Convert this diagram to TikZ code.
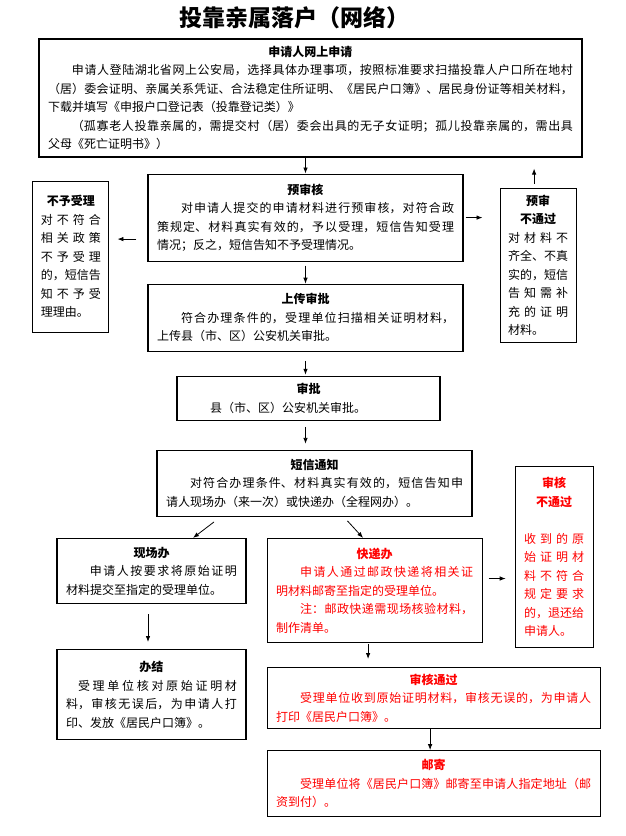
\documentclass[tikz,border=0pt]{standalone}
\usepackage{fontspec}
\setmainfont{Noto Sans CJK SC}
\usetikzlibrary{positioning,arrows.meta}
\XeTeXlinebreaklocale "zh"
\XeTeXlinebreakskip=0pt plus 1pt

\begin{document}
\begin{tikzpicture}[x=1pt, y=-1pt, ->, >={Latex[length=6pt,width=4.5pt]}, line width=0.8pt,
  box/.style={draw, line width=1.1pt, inner xsep=9pt, inner ysep=4pt, align=justify,
    font=\fontsize{12}{18.5}\selectfont},
  narrow/.style={box, text width=60pt, inner xsep=8pt,
    execute at begin node={\XeTeXlinebreakskip=0pt plus 8pt}},
  redbox/.style={box, text=red}]

  \useasboundingbox (0,0) rectangle (626,836);

  \node[font=\fontsize{23}{23}\selectfont\bfseries] (title) at (294,18) {投靠亲属落户（网络）};

  \node[box, text width=525pt, minimum height=118pt] (apply) at (310.5,98) {%
    {\centering\bfseries 申请人网上申请\par}%
    \hspace*{2em}申请人登陆湖北省网上公安局，选择具体办理事项，按照标准要求扫描投靠人户口所在地村\linebreak
    （居）委会证明、亲属关系凭证、合法稳定住所证明、《居民户口簿》、居民身份证等相关材料，\linebreak
    下载并填写《申报户口登记表（投靠登记类）》\par
    \hspace*{2em}（孤寡老人投靠亲属的，需提交村（居）委会出具的无子女证明；孤儿投靠亲属的，需出具\linebreak
    父母《死亡证明书》）};
  \node[box, text width=297pt, minimum height=87pt] (pre) [below=16pt of apply, xshift=-5pt] {%
    {\centering\bfseries 预审核\par}%
    \hspace*{2em}对申请人提交的申请材料进行预审核，对符合政\linebreak
    策规定、材料真实有效的，予以受理，短信告知受理\linebreak
    情况；反之，短信告知不予受理情况。};
  \node[narrow, minimum height=151pt] (reject) [below left=7pt and 38pt of pre.north west] {%
    {\centering\bfseries 不予受理\par}%
    对不符合\linebreak 相关政策\linebreak 不予受理\linebreak 的，短信告\linebreak 知不予受\linebreak 理理由。};
  \node[narrow, minimum height=154pt] (fail1) [below right=14pt and 36pt of pre.north east] {%
    {\centering\bfseries 预审\par 不通过\par}%
    对材料不\linebreak 齐全、不真\linebreak 实的，短信\linebreak 告知需补\linebreak 充的证明\linebreak 材料。};
  \node[box, text width=297pt, minimum height=67pt] (upload) [below=22pt of pre] {%
    {\centering\bfseries 上传审批\par}%
    \hspace*{2em}符合办理条件的，受理单位扫描相关证明材料，\linebreak
    上传县（市、区）公安机关审批。};
  \node[box, text width=245pt, minimum height=44pt] (approve) [below=24pt of upload, xshift=3pt] {%
    {\centering\bfseries 审批\par}%
    \hspace*{2em}县（市、区）公安机关审批。};
  \node[box, text width=297pt, minimum height=66pt] (notify) [below=29pt of approve, xshift=6pt] {%
    {\centering\bfseries 短信通知\par}%
    \hspace*{2em}对符合办理条件、材料真实有效的，短信告知申\linebreak
    请人现场办（来一次）或快递办（全程网办）。};

  \node[box, text width=171pt, minimum height=65pt] (onsite) [below=21pt of notify.south west, anchor=north west, xshift=-100pt] {%
    {\centering\bfseries 现场办\par}%
    \hspace*{2em}申请人按要求将原始证明\linebreak
    材料提交至指定的受理单位。};
  \node[redbox, text width=197pt, minimum height=104pt] (express) [right=20pt of onsite.north east, anchor=north west] {%
    {\centering\bfseries 快递办\par}%
    \hspace*{2em}申请人通过邮政快递将相关证\linebreak
    明材料邮寄至指定的受理单位。\par
    \hspace*{2em}注：邮政快递需现场核验材料，\linebreak
    制作清单。};
  \node[narrow, text=red, inner xsep=9pt, minimum height=181pt] (fail2) [right=32pt of express.south east, anchor=south west, yshift=-5pt] {%
    {\centering\bfseries 审核\par 不通过\par}\vspace{18.5pt}%
    收到的原\linebreak 始证明材\linebreak 料不符合\linebreak 规定要求\linebreak 的，退还给\linebreak 申请人。};
  \node[box, text width=171pt, minimum height=90pt] (done) [below=45pt of onsite] {%
    {\centering\bfseries 办结\par}%
    \hspace*{1em}受理单位核对原始证明材\linebreak
    料，审核无误后，为申请人打\linebreak
    印、发放《居民户口簿》。};
  \node[redbox, text width=315pt, minimum height=61pt] (pass) [below=24pt of express.south west, anchor=north west] {%
    {\centering\bfseries 审核通过\par}%
    \hspace*{2em}受理单位收到原始证明材料，审核无误的，为申请人\linebreak
    打印《居民户口簿》。};
  \node[redbox, text width=315pt, minimum height=66pt] (mail) [below=21pt of pass] {%
    {\centering\bfseries 邮寄\par}%
    \hspace*{2em}受理单位将《居民户口簿》邮寄至申请人指定地址（邮\linebreak
    资到付）。};

  % arrows
  \draw (apply.south -| pre.north) -- (pre.north);
  \draw[shorten <=11pt, shorten >=8pt] ([yshift=-21.5pt]pre.west) -- ([yshift=-21.5pt]pre.west -| reject.east);
  \draw[shorten <=2pt, shorten >=17pt] (pre.east) -- (pre.east -| fail1.west);
  \draw[shorten <=4pt, shorten >=11pt] ([xshift=-4pt]fail1.north) -- ([xshift=-4pt]fail1.north |- apply.south);
  \draw[shorten <=4pt] (pre.south) -- (upload.north);
  \draw[shorten <=9pt, shorten >=1pt] (upload.south) -- (approve.north -| upload.south);
  \draw[shorten <=6pt, shorten >=6pt] (approve.south -| upload.south) -- (notify.north -| upload.south);
  \draw ([xshift=-100.5pt, yshift=-5pt]notify.south) -- ([xshift=41.5pt]onsite.north);
  \draw ([xshift=33pt, yshift=-4pt]notify.south) -- ([xshift=-11.5pt]express.north);
  \draw[shorten <=6pt, shorten >=9pt] ([yshift=12pt]express.east) -- ([yshift=12pt]express.east -| fail2.west);
  \draw[shorten <=10pt, shorten >=7pt] ([xshift=-3.5pt]onsite.south) -- ([xshift=-3.5pt]done.north);
  \draw[shorten <=1pt, shorten >=8pt] ([xshift=-6.5pt]express.south) -- ([xshift=-6.5pt]express.south |- pass.north);
  \draw ([xshift=-3.5pt]pass.south) -- ([xshift=-3.5pt]mail.north);

\end{tikzpicture}
\end{document}
